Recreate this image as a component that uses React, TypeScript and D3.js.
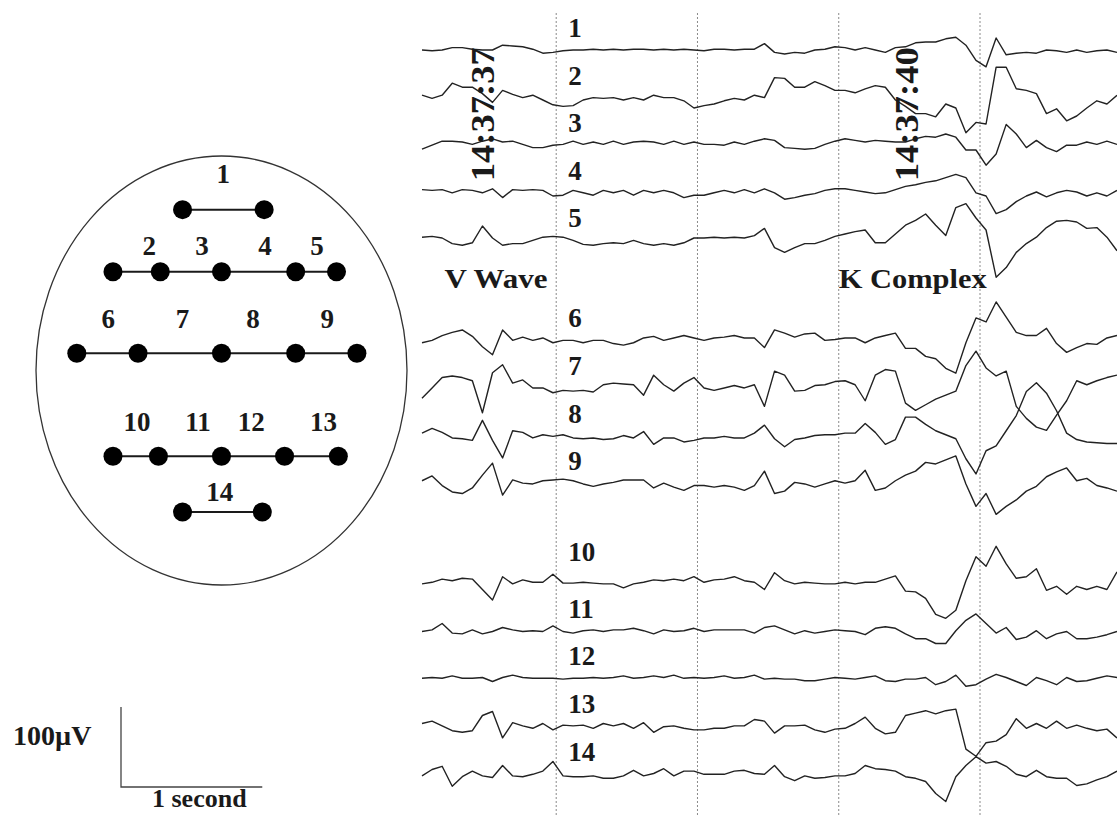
import React, { useEffect, useRef } from 'react';
import * as d3 from 'd3';

const WIDTH = 1117;
const HEIGHT = 816;

// traces are sampled every DT seconds, first sample at T0 (0 = first second mark)
const T0 = -0.95;
const DT = 0.0713;

const CHANNELS = ['1', '2', '3', '4', '5', '6', '7', '8', '9', '10', '11', '12', '13', '14'];
const CHANNEL_GROUP = [0, 0, 0, 0, 0, 1, 1, 1, 1, 2, 2, 2, 2, 2];

// deflections in µV (positive = up)
const CH1 = [0, -1, 0, 3, 3, 1, 0, 0, 6, 5, 4, 1, -4, -3, -1, 0, 0, 1, 0, 1, 0, 1, 1, 0, 1, 0, 1, 0, -1, 1, 1, 0, 1, 1, 8, -3, -5, -3, -4, 0, 1, 4, 3, 0, 3, 0, -3, 3, 4, 9, 10, 10, 14, 16, 6, -13, -21, 15, -6, -4, -3, -4, 0, -1, -3, 0, -3, -1, 0, -3];
const CH2 = [3, -1, 3, 18, 13, 13, 5, -6, 9, 4, 0, 3, -3, -9, -11, -10, -3, 0, -1, 0, -3, 0, -3, 3, 0, 0, -4, -13, -10, -8, -4, -1, -3, 3, 0, 25, 24, 13, 13, 20, 15, 9, 9, 6, 11, 15, 13, -3, -11, -20, -20, -24, -8, -13, -44, -31, -33, 38, 38, 11, 9, 5, -20, -14, -29, -23, -13, -4, -8, 3];
const CH3 = [-5, 0, 5, 5, 4, 1, 5, 8, 4, 5, 1, -3, -3, 0, 1, 5, 1, 4, 1, 5, 1, 4, 5, 4, 1, 5, 1, 4, 1, 1, 0, 4, 1, 5, 8, 6, -3, -4, -5, -4, 1, 5, 8, 6, 4, 6, 5, 4, 4, 8, 11, 10, 14, 10, -6, -6, -25, -11, 26, 14, -3, 6, -3, -8, 0, 0, 4, 1, 5, 1];
const CH4 = [4, 3, 4, 0, 4, 3, 0, 5, -6, 4, 3, 4, 3, -4, -3, 3, 0, -3, 3, 0, 3, -3, 3, 0, 3, 0, -6, -3, -3, 0, 3, 0, 4, 0, 5, 0, -8, -6, -3, -1, 3, 5, 5, 3, 1, -1, 0, 4, 8, 10, 13, 15, 19, 23, 19, 0, -4, -26, -21, -11, -4, 1, -5, 0, 3, 1, -4, 0, -4, 3];
const CH5 = [4, 5, 3, -4, -6, -3, 18, 3, -6, -4, -4, 0, 4, 5, 4, 0, -5, -6, -4, -3, -4, 0, -4, -6, -4, -6, -3, 3, 3, 4, 3, 4, 3, 6, 15, -9, -15, -9, -4, -4, 0, 5, 8, 11, 13, -3, -3, 8, 19, 25, 33, 19, 6, 41, 46, 28, 13, -46, -34, -15, -4, 4, 16, 24, 25, 23, 15, 16, 4, -13];
const CH6 = [-3, 0, 6, 10, 13, 5, -8, -18, 13, 0, 4, 0, 3, -3, 0, 0, -3, 0, 0, -4, -6, -3, 3, 5, 0, 3, 6, 3, 0, 3, 4, 6, 3, 3, -9, 13, 9, 4, 8, 9, 0, 1, 3, 3, -3, 3, 6, 9, -10, -10, -20, -23, -35, -41, -3, 28, 23, 48, 29, 10, 6, 6, 15, -4, -15, -9, -4, -5, 3, 6];
const CH7 = [-13, 0, 13, 15, 13, 9, -31, 19, 29, 6, 10, 0, 0, -6, -3, -4, -3, -5, 4, 6, 5, 4, -9, 16, 4, -4, 6, 13, 0, -3, 0, 3, 0, 4, -23, 21, 16, -4, -3, 3, 4, 8, 9, 4, -16, 16, 23, 21, -19, -28, -21, -14, -9, -4, 28, 46, 25, 15, 21, -23, -38, -49, -53, -34, -16, 9, 4, 9, 13, 16];
const CH8 = [3, 9, 4, -3, -4, -6, 19, -6, -28, 6, 4, -3, 1, -1, 1, -3, -4, -3, -5, -4, 0, -3, 5, -11, -3, -3, -8, -6, -3, -3, -1, -3, -3, 3, 13, -4, -14, -5, -3, 0, 1, 1, 3, 3, 15, 4, -11, -5, 23, 23, 14, 6, 1, -4, -29, -48, -19, -13, 6, 25, 55, 66, 53, 31, 3, -5, -8, -9, -10, -10];
const CH9 = [3, 9, -3, -11, -13, -6, 10, 25, -15, 4, 0, -1, 3, 4, 5, 3, -1, -4, -1, 1, 4, 4, 4, -6, 0, -5, -9, -3, -3, -5, -3, -5, -9, -3, 15, -13, -10, 1, -1, -5, -1, 3, 0, 3, 16, -9, -6, 3, 10, 15, 26, 24, 29, 34, -1, -29, -13, -39, -29, -21, -10, -4, 8, 14, 19, 3, 6, -3, -6, -10];
const CH10 = [-1, 1, 5, 3, 6, 5, -8, -21, 8, -1, 4, 1, 1, 11, 0, 0, 1, 0, -1, -1, -6, -1, 1, 4, 3, 5, 3, 8, 1, 4, 5, 8, 3, 1, -8, 13, 3, -1, 1, 0, -1, -1, 1, -1, 1, 1, 5, 9, -10, -11, -19, -39, -44, -34, 3, 33, 21, 46, 24, 6, 8, 18, -9, -4, -14, -4, -8, -4, -8, 14];
const CH11 = [-1, 1, 9, -3, -4, 1, -4, -1, 4, 1, -1, 0, -1, 6, -1, -3, 0, 1, -1, 1, 1, 3, 0, -4, 1, -1, 0, 3, -1, 1, 1, 1, 1, -3, 4, 6, 1, -4, 0, -3, -1, 1, 0, -1, -5, 3, 5, 3, -4, -10, -10, -16, -16, 0, 13, 21, 9, -3, 4, -11, -8, 0, -10, -4, -1, -10, -10, -8, -5, -1];
const CH12 = [0, 1, 0, 3, 0, 0, 1, -4, 1, 4, 1, 0, 0, 0, -1, 0, 0, 1, 0, 1, 3, 0, 1, 3, 1, 4, 0, 1, 0, 1, 3, 0, 1, 4, -1, 0, -1, -1, -3, -3, -1, 1, 0, -1, 1, 3, -3, -4, -1, -1, 1, -8, -4, 4, -10, -8, -1, 5, 1, -4, -9, 1, -3, -8, 1, -4, -3, 0, 3, 1];
const CH13 = [3, 6, 0, -6, -8, -6, 13, 18, -15, 4, 0, -3, 3, -5, 1, 0, 1, -3, 3, 0, 3, -3, 4, -8, -1, 0, -3, -5, -5, -3, -3, 0, 0, 8, 6, -9, 0, 0, 1, -5, -8, -4, -3, 3, 11, -3, -10, -8, 13, 16, 19, 15, 19, 21, -29, -38, -21, -19, -11, 9, -3, 3, -3, 6, -3, 1, -3, -6, -4, -15];
const CH14 = [-3, 5, 9, -16, -4, 3, -3, -5, 10, -3, -4, -1, 3, 15, -3, -4, -4, -3, -6, -6, -3, 4, -3, 0, 6, -3, 3, 3, -1, -1, -1, 3, 4, 0, -1, 10, -4, -9, -3, -6, -5, -3, -3, 0, 10, 6, 5, 3, -4, -6, -10, -25, -35, -4, 10, 21, 13, 15, 9, -1, -4, 4, -4, -6, -6, -15, -13, -8, -4, 3];
const TRACES = [CH1, CH2, CH3, CH4, CH5, CH6, CH7, CH8, CH9, CH10, CH11, CH12, CH13, CH14];

const SECOND_MARKS = [0, 1, 2, 3];
const TIME_STAMPS = ['14:37:37', '14:37:40'];
const TIME_STAMP_T = [-0.52, 2.48];
const EVENTS = ['V Wave', 'K Complex'];
const EVENT_T = [-0.79, 2.0];

// bipolar montage, head coordinates in [-1, 1]
const ROW_Y = [-0.75, -0.46, -0.08, 0.4, 0.66];
const ROW_ELECTRODES = [
  [-0.21, 0.23],
  [-0.585, -0.33, 0, 0.4, 0.62],
  [-0.78, -0.45, 0, 0.4, 0.73],
  [-0.585, -0.34, 0, 0.34, 0.63],
  [-0.21, 0.22],
];
const ROW_LABEL_Y = [-0.874, -0.54, -0.2, 0.28, 0.61];
const CHANNEL_LABEL_X = [0.01, -0.39, -0.105, 0.235, 0.515, -0.61, -0.21, 0.17, 0.57, -0.455, -0.127, 0.16, 0.55, -0.01];

const FONT = "'Liberation Serif', 'Times New Roman', serif";
const INK = '#1a1a1a';

const EegChart: React.FC = () => {
  const ref = useRef<SVGSVGElement>(null);

  useEffect(() => {
    const svg = d3.select(ref.current);
    svg.selectAll('*').remove();

    const tEnd = T0 + DT * (CH1.length - 1);
    const x = d3.scaleLinear().domain([T0, tEnd]).range([422, WIDTH]);
    const slot = d3.scaleLinear().domain([0, 15.2]).range([50, 773.5]);
    const amp = d3.scaleLinear().domain([-100, 100]).range([80, -80]);
    const hx = d3.scaleLinear().domain([-1, 1]).range([36, 407]);
    const hy = d3.scaleLinear().domain([-1, 1]).range([156, 585]);

    const baseline = (i: number) => slot(i + CHANNEL_GROUP[i] * 1.1);

    // one-second grid
    svg
      .append('g')
      .selectAll('line')
      .data(SECOND_MARKS)
      .join('line')
      .attr('x1', (d) => x(d))
      .attr('x2', (d) => x(d))
      .attr('y1', 13)
      .attr('y2', HEIGHT)
      .attr('stroke', '#8a8a8a')
      .attr('stroke-width', 1)
      .attr('stroke-dasharray', '2,2');

    // traces
    TRACES.forEach((values, i) => {
      const y0 = baseline(i);
      const line = d3
        .line<number>()
        .x((_, j) => x(T0 + j * DT))
        .y((d) => y0 + amp(d));
      svg
        .append('path')
        .datum(values)
        .attr('fill', 'none')
        .attr('stroke', '#222')
        .attr('stroke-width', 1.4)
        .attr('stroke-linejoin', 'round')
        .attr('d', line);
    });

    // channel numbers
    svg
      .append('g')
      .selectAll('text')
      .data(CHANNELS)
      .join('text')
      .attr('x', x(0) + 12)
      .attr('y', (_, i) => baseline(i) - (i === 9 ? 22 : 13))
      .attr('font-family', FONT)
      .attr('font-weight', 'bold')
      .attr('font-size', 27)
      .attr('fill', INK)
      .text((d) => d);

    // time stamps
    svg
      .append('g')
      .selectAll('text')
      .data(TIME_STAMPS)
      .join('text')
      .attr('transform', (_, i) => `translate(${x(TIME_STAMP_T[i])},${slot(1.35)}) rotate(-90)`)
      .attr('text-anchor', 'middle')
      .attr('dominant-baseline', 'central')
      .attr('font-family', FONT)
      .attr('font-weight', 'bold')
      .attr('font-size', 33)
      .attr('textLength', 134)
      .attr('lengthAdjust', 'spacingAndGlyphs')
      .attr('fill', INK)
      .text((d) => d);

    // event annotations
    svg
      .append('g')
      .selectAll('text')
      .data(EVENTS)
      .join('text')
      .attr('x', (_, i) => x(EVENT_T[i]))
      .attr('y', slot(5))
      .attr('font-family', FONT)
      .attr('font-weight', 'bold')
      .attr('font-size', 28)
      .attr('textLength', (d) => (d === 'V Wave' ? 103 : 148))
      .attr('lengthAdjust', 'spacingAndGlyphs')
      .attr('fill', INK)
      .text((d) => d);

    // head with electrode montage
    const head = svg.append('g');
    head
      .append('ellipse')
      .attr('cx', hx(0))
      .attr('cy', hy(0))
      .attr('rx', hx(1) - hx(0))
      .attr('ry', hy(1) - hy(0))
      .attr('fill', 'none')
      .attr('stroke', '#333')
      .attr('stroke-width', 1.3);

    let ch = 0;
    ROW_ELECTRODES.forEach((xs, r) => {
      const yy = hy(ROW_Y[r]);
      head
        .append('line')
        .attr('x1', hx(xs[0]))
        .attr('x2', hx(xs[xs.length - 1]))
        .attr('y1', yy)
        .attr('y2', yy)
        .attr('stroke', INK)
        .attr('stroke-width', 2);
      head
        .append('g')
        .selectAll('circle')
        .data(xs)
        .join('circle')
        .attr('cx', (d) => hx(d))
        .attr('cy', yy)
        .attr('r', 9.5)
        .attr('fill', '#000');
      for (let k = 0; k < xs.length - 1; k++) {
        head
          .append('text')
          .attr('x', hx(CHANNEL_LABEL_X[ch]))
          .attr('y', hy(ROW_LABEL_Y[r]))
          .attr('text-anchor', 'middle')
          .attr('font-family', FONT)
          .attr('font-weight', 'bold')
          .attr('font-size', 27)
          .attr('fill', INK)
          .text(CHANNELS[ch]);
        ch++;
      }
    });

    // calibration bar: 100 µV by 1 second
    const barX = 121;
    const barY = 787;
    const barH = amp(0) - amp(100);
    const barW = x(1) - x(0);
    const bar = svg.append('g');
    bar
      .append('path')
      .attr('d', `M${barX},${barY - barH}V${barY}H${barX + barW}`)
      .attr('fill', 'none')
      .attr('stroke', '#444')
      .attr('stroke-width', 1.3);
    bar
      .append('text')
      .attr('x', 13)
      .attr('y', barY - 42)
      .attr('font-family', FONT)
      .attr('font-weight', 'bold')
      .attr('font-size', 28)
      .attr('fill', INK)
      .text('100µV');
    bar
      .append('text')
      .attr('x', barX + 31)
      .attr('y', barY + 20)
      .attr('font-family', FONT)
      .attr('font-weight', 'bold')
      .attr('font-size', 26)
      .attr('fill', INK)
      .text('1 second');
  }, []);

  return (
    <svg
      ref={ref}
      width={WIDTH}
      height={HEIGHT}
      style={{ position: 'absolute', left: 0, top: 0, display: 'block', background: '#fff' }}
    />
  );
};

export default function App() {
  return <EegChart />;
}
